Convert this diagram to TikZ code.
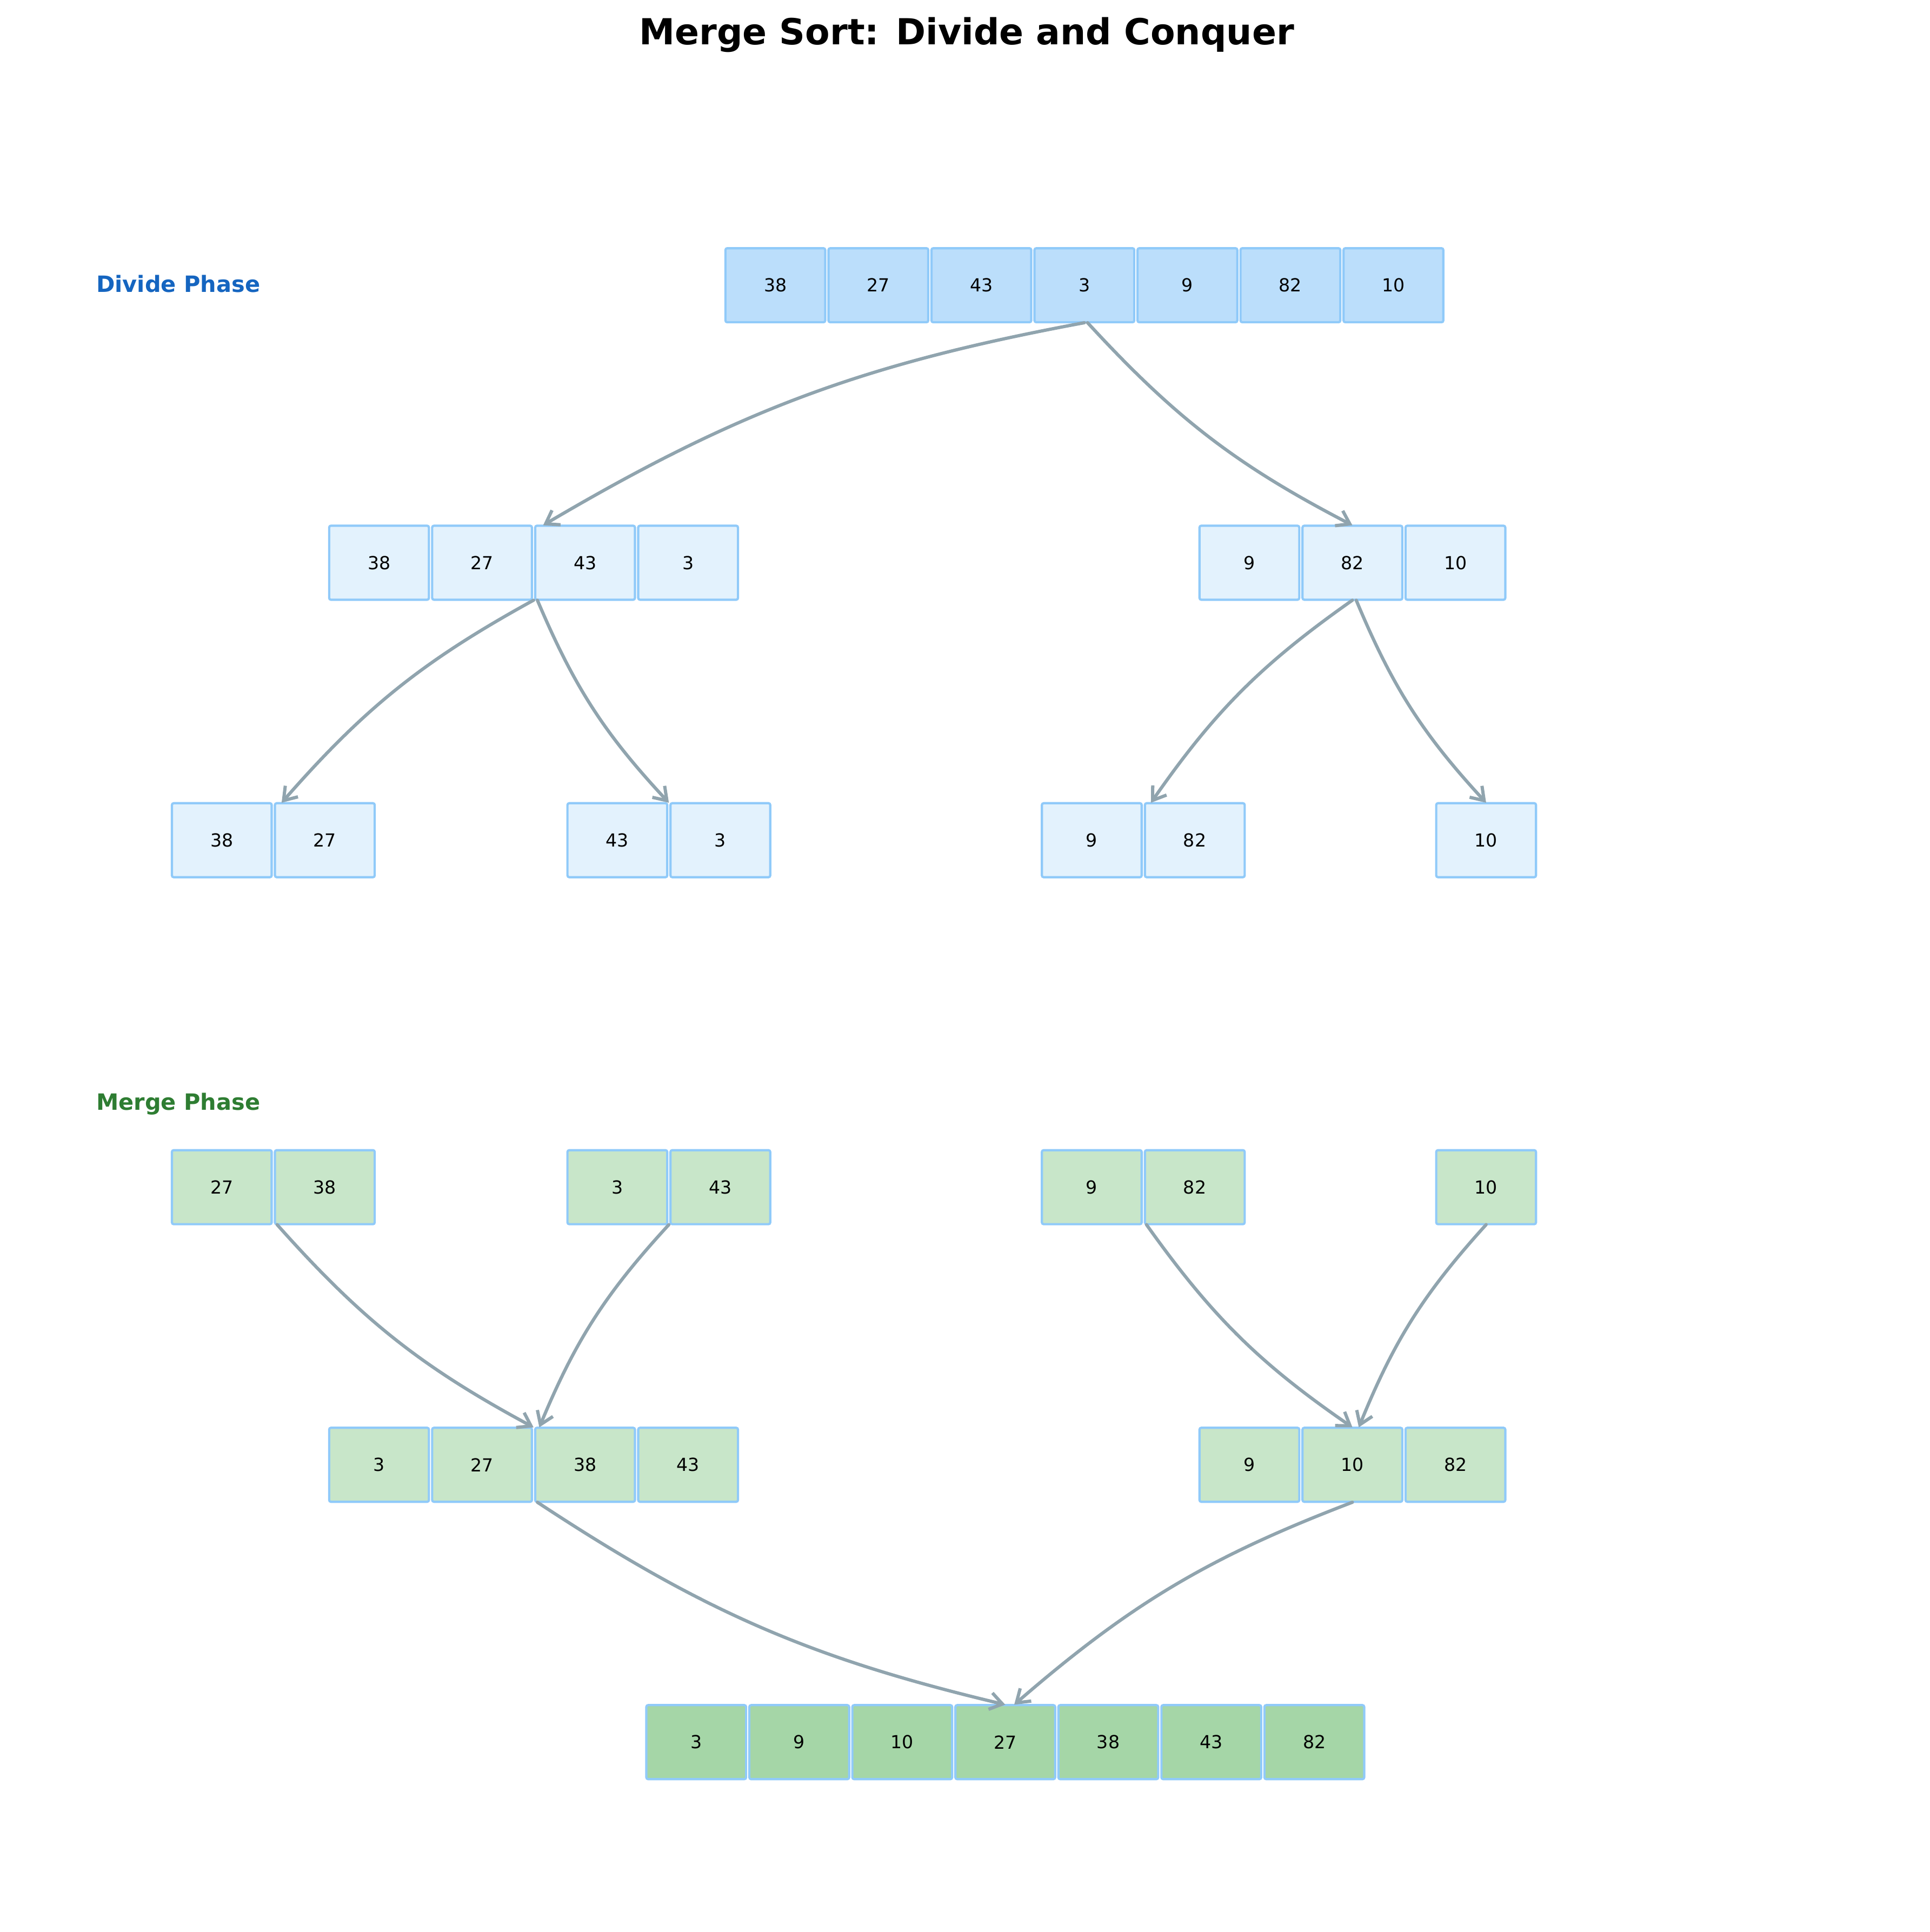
\documentclass[tikz,border=0pt]{standalone}
\usepackage{fontspec}
\setmainfont{DejaVu Sans}
\usepackage{xcolor}
\usepackage{tikz}
\usetikzlibrary{arrows.meta}

\definecolor{rootfill}{HTML}{BBDEFB}
\definecolor{dividefill}{HTML}{E3F2FD}
\definecolor{mergefill}{HTML}{C8E6C9}
\definecolor{sortedfill}{HTML}{A5D6A7}
\definecolor{cellline}{HTML}{90CAF9}
\definecolor{arrowgrey}{HTML}{90A4AE}
\definecolor{dividetext}{HTML}{1565C0}
\definecolor{mergetext}{HTML}{2E7D32}

\begin{document}
\begin{tikzpicture}[x=0.19302mm, y=-0.19302mm,
    cell/.style={draw=cellline, line width=1pt, rounded corners=0.8pt,
        minimum width=15.63mm, minimum height=11.6mm, inner sep=0pt,
        font=\fontsize{8}{9.6}\selectfont},
    grp/.style={minimum width=15.63mm, minimum height=11.6mm, inner sep=0pt},
    split/.style={-{Straight Barb[length=5.5pt,width=7.5pt]}, line width=1.45pt,
        arrowgrey, line cap=round, bend right=10}]
    \useasboundingbox (0,0) rectangle (1566,1568);

    % Title and phase labels
    \node[anchor=base, font=\fontsize{16}{19}\selectfont\bfseries] (title) at (784.5,36.3) {Merge Sort: Divide and Conquer};
    \node[anchor=base west, inner sep=0pt, text=dividetext, font=\fontsize{10}{12}\selectfont\bfseries] (dlabel) at (77.8,237) {Divide Phase};
    \node[anchor=base west, inner sep=0pt, text=mergetext, font=\fontsize{10}{12}\selectfont\bfseries] (mlabel) at (77.8,901) {Merge Phase};

    % Divide: whole array
    \node[grp] (d0) at (880,231.5) {};
    \node[cell, fill=rootfill] (d0a) at (629.2,231.5) {38};
    \node[cell, fill=rootfill] (d0b) at (712.8,231.5) {27};
    \node[cell, fill=rootfill] (d0c) at (796.4,231.5) {43};
    \node[cell, fill=rootfill] (d0d) at (880.0,231.5) {3};
    \node[cell, fill=rootfill] (d0e) at (963.6,231.5) {9};
    \node[cell, fill=rootfill] (d0f) at (1047.2,231.5) {82};
    \node[cell, fill=rootfill] (d0g) at (1130.8,231.5) {10};

    % Divide: halves
    \node[grp] (d1l) at (433,456.7) {};
    \node[cell, fill=dividefill] (d1a) at (307.6,456.7) {38};
    \node[cell, fill=dividefill] (d1b) at (391.2,456.7) {27};
    \node[cell, fill=dividefill] (d1c) at (474.8,456.7) {43};
    \node[cell, fill=dividefill] (d1d) at (558.4,456.7) {3};
    \node[grp] (d1r) at (1097.5,456.7) {};
    \node[cell, fill=dividefill] (d1e) at (1013.9,456.7) {9};
    \node[cell, fill=dividefill] (d1f) at (1097.5,456.7) {82};
    \node[cell, fill=dividefill] (d1g) at (1181.1,456.7) {10};

    % Divide: quarters
    \node[grp] (d2l) at (221.8,681.9) {};
    \node[cell, fill=dividefill] (d2a) at (180.0,681.9) {38};
    \node[cell, fill=dividefill] (d2b) at (263.6,681.9) {27};
    \node[grp] (d2m) at (542.8,681.9) {};
    \node[cell, fill=dividefill] (d2c) at (501.0,681.9) {43};
    \node[cell, fill=dividefill] (d2d) at (584.6,681.9) {3};
    \node[grp] (d2n) at (927.8,681.9) {};
    \node[cell, fill=dividefill] (d2e) at (886.0,681.9) {9};
    \node[cell, fill=dividefill] (d2f) at (969.6,681.9) {82};
    \node[grp] (d2r) at (1206,681.9) {};
    \node[cell, fill=dividefill] (d2g) at (1206.0,681.9) {10};

    % Merge: sorted pairs
    \node[grp] (m0l) at (221.8,963.5) {};
    \node[cell, fill=mergefill] (m0a) at (180.0,963.5) {27};
    \node[cell, fill=mergefill] (m0b) at (263.6,963.5) {38};
    \node[grp] (m0m) at (542.8,963.5) {};
    \node[cell, fill=mergefill] (m0c) at (501.0,963.5) {3};
    \node[cell, fill=mergefill] (m0d) at (584.6,963.5) {43};
    \node[grp] (m0n) at (927.8,963.5) {};
    \node[cell, fill=mergefill] (m0e) at (886.0,963.5) {9};
    \node[cell, fill=mergefill] (m0f) at (969.6,963.5) {82};
    \node[grp] (m0r) at (1206,963.5) {};
    \node[cell, fill=mergefill] (m0g) at (1206.0,963.5) {10};

    % Merge: sorted halves
    \node[grp] (m1l) at (433,1188.8) {};
    \node[cell, fill=mergefill] (m1a) at (307.6,1188.8) {3};
    \node[cell, fill=mergefill] (m1b) at (391.2,1188.8) {27};
    \node[cell, fill=mergefill] (m1c) at (474.8,1188.8) {38};
    \node[cell, fill=mergefill] (m1d) at (558.4,1188.8) {43};
    \node[grp] (m1r) at (1097.5,1188.8) {};
    \node[cell, fill=mergefill] (m1e) at (1013.9,1188.8) {9};
    \node[cell, fill=mergefill] (m1f) at (1097.5,1188.8) {10};
    \node[cell, fill=mergefill] (m1g) at (1181.1,1188.8) {82};

    % Merge: sorted array
    \node[grp] (m2) at (815.8,1413.9) {};
    \node[cell, fill=sortedfill] (m2a) at (565.0,1413.9) {3};
    \node[cell, fill=sortedfill] (m2b) at (648.6,1413.9) {9};
    \node[cell, fill=sortedfill] (m2c) at (732.2,1413.9) {10};
    \node[cell, fill=sortedfill] (m2d) at (815.8,1413.9) {27};
    \node[cell, fill=sortedfill] (m2e) at (899.4,1413.9) {38};
    \node[cell, fill=sortedfill] (m2f) at (983.0,1413.9) {43};
    \node[cell, fill=sortedfill] (m2g) at (1066.6,1413.9) {82};

    % Split arrows
    \draw[split] (d0.south) to ([xshift=1.5mm]d1l.north);
    \draw[split] ([xshift=0.5mm]d0.south) to (d1r.north);
    \draw[split] (d1l.south) to ([xshift=1.3mm]d2l.north);
    \draw[split] ([xshift=0.6mm]d1l.south) to (d2m.north);
    \draw[split] (d1r.south) to ([xshift=1.2mm]d2n.north);
    \draw[split] ([xshift=0.6mm]d1r.south) to (d2r.north);

    % Merge arrows
    \draw[split] ([xshift=0.6mm]m0l.south) to (m1l.north);
    \draw[split] (m0m.south) to ([xshift=0.9mm]m1l.north);
    \draw[split] ([xshift=0.5mm]m0n.south) to (m1r.north);
    \draw[split] (m0r.south) to ([xshift=1mm]m1r.north);
    \draw[split] ([xshift=0.6mm]m1l.south) to (m2.north);
    \draw[split] (m1r.south) to ([xshift=1.4mm]m2.north);
\end{tikzpicture}
\end{document}
